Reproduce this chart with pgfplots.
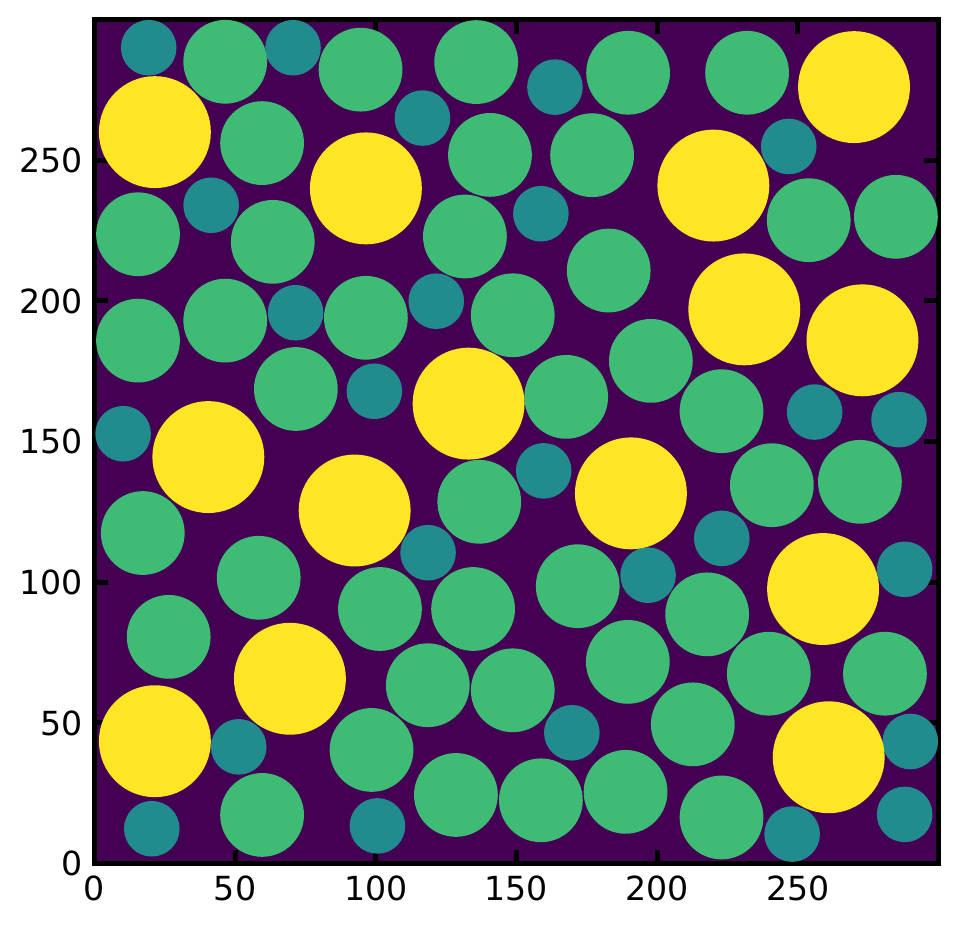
\documentclass[border=0pt]{standalone}
\usepackage{fontspec}
\setmainfont{DejaVu Sans}
\usepackage{pgfplots}
\pgfplotsset{compat=1.18}
\definecolor{bgc}{RGB}{68,1,84}
\definecolor{cteal}{RGB}{34,139,141}
\definecolor{cgreen}{RGB}{62,187,116}
\definecolor{cyellow}{RGB}{253,231,37}
\begin{document}
\fontsize{8.3}{10}\selectfont
\begin{tikzpicture}
\begin{axis}[
  scale only axis, width=211pt, height=211pt,
  xmin=0, xmax=300, ymin=0, ymax=300,
  axis background/.style={fill=bgc},
  axis on top,
  axis line style={line width=1.25pt, black},
  every tick/.style={line width=1.25pt, black},
  major tick length=3.5pt,
  tick align=inside,
  xtick={0,50,...,250}, ytick={0,50,...,250},
  xtick pos=both, ytick pos=both,
  xticklabel pos=lower, yticklabel pos=left,
  tick label style={font=\fontsize{8.3}{10}\selectfont},
  /pgf/number format/assume math mode=true,
]
\addplot[only marks, mark=*, mark size=6.75pt, color=cteal] table {
x y
19.3 290
70.6 290
116.6 265
41.5 234
158.7 231
71.5 195.8
121.5 199.9
99.5 167.9
10.2 152.8
163.7 276
246.8 254.9
256 160.5
286 157.8
118.6 110.5
51.3 41.5
20.4 12.4
100.6 13.4
159.7 139.6
223 115.6
288 104.6
196.8 102.5
169.7 46.5
290 43.4
248 10.5
288 17.5
};
\addplot[only marks, mark=*, mark size=10.27pt, color=cgreen] table {
x y
46.5 285
94.6 282.2
135.7 284.9
59.6 256.1
140.6 251.9
15.5 223.7
63.4 221
131.7 222.9
15.5 185.9
46.5 193
96.5 194
148.7 194.9
71.6 168.7
189.7 281.1
232 281.1
176.9 251.8
253.9 228.7
284.9 229.9
182.8 210.8
197.8 178.7
167.7 165.9
222.9 160.8
17.2 117.5
136.8 128.6
58.4 101.6
26.4 80.6
101.5 90.5
134.6 90.5
118.5 63.4
148.7 61.6
98.5 40.4
59.6 17.3
128.5 24.4
158.7 22.5
240.8 134.5
272.1 135.7
171.8 98.6
217.8 88.6
189.6 71.7
239.7 67.5
281 67.5
212.7 49.5
188.8 25.5
222.9 16.4
};
\addplot[only marks, mark=*, mark size=13.79pt, color=cyellow] table {
x y
21.5 260
96.5 240
133 163.5
40.5 144.5
270 276
220 241
231 197
273 186
92.5 125.5
69.5 65.7
21.5 43.5
190.7 131.6
259 97.6
261 37.8
};
\end{axis}
\pgfresetboundingbox
\path[use as bounding box] ([xshift=-23.6pt, yshift=-15.9pt]current axis.south west) rectangle ([xshift=4.9pt, yshift=4.9pt]current axis.north east);
\end{tikzpicture}
\end{document}
